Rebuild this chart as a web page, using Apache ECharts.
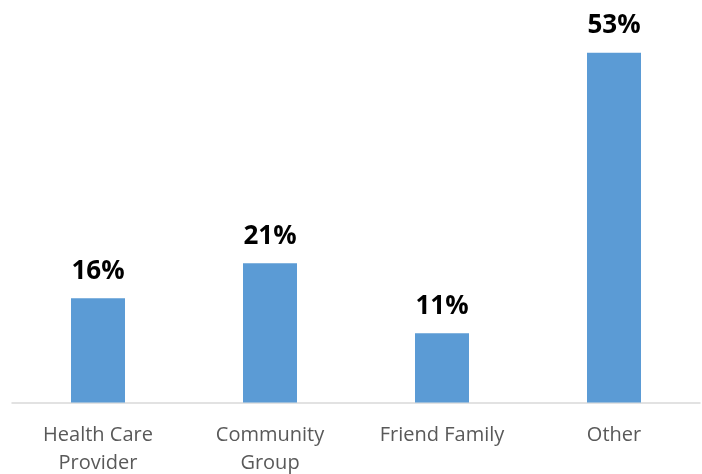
<!DOCTYPE html>
<html>
<head>
<meta charset="utf-8">
<script src="https://cdn.jsdelivr.net/npm/echarts@6/dist/echarts.min.js"></script>
<style>html,body{margin:0;padding:0;background:#fff}#c{width:702px;height:474px}</style>
</head>
<body>
<div id="c"></div>
<script>
const categories = ['Health Care\nProvider', 'Community\nGroup', 'Friend Family', 'Other'];
const values = [15.8, 21.1, 10.5, 53];

const chart = echarts.init(document.getElementById('c'), null, {renderer: 'canvas'});
chart.setOption({
  animation: false,
  grid: {left: 12, right: 2, top: 6.5, bottom: 71.5, containLabel: false, outerBoundsMode: 'none'},
  xAxis: {
    type: 'category',
    data: categories,
    axisLine: {lineStyle: {color: '#d9d9d9', width: 1.5}},
    axisTick: {show: false},
    axisLabel: {
      color: '#595959', fontFamily: 'Open Sans', fontSize: 20,
      lineHeight: 28, margin: 19, interval: 0
    }
  },
  yAxis: {
    type: 'value', min: 0, max: 60, show: false,
    splitLine: {show: false}
  },
  series: [{
    type: 'bar',
    data: values,
    barWidth: 54,
    itemStyle: {color: '#5B9BD5'},
    label: {
      show: true, position: 'top', distance: 14,
      formatter: p => Math.round(p.value) + '%',
      color: '#000', fontWeight: 'bold', fontFamily: 'Open Sans', fontSize: 26
    }
  }]
});
</script>
</body>
</html>
